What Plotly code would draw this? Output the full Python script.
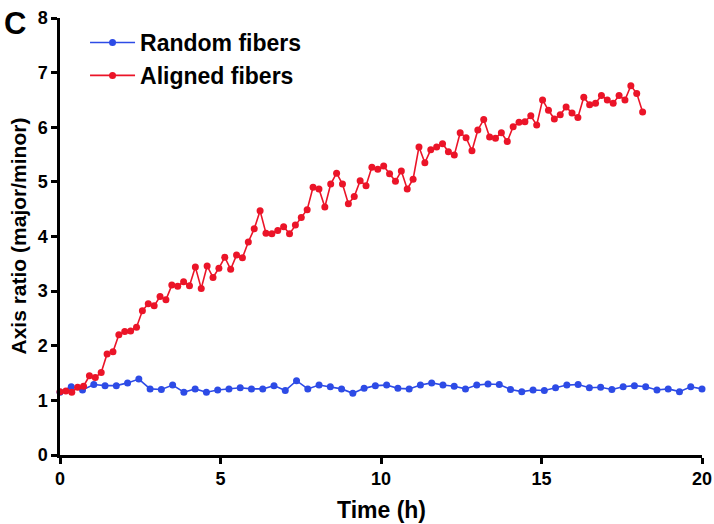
import plotly.graph_objects as go

# Time step: random fibers sampled every 20/57 h, aligned every 11 min
random_step = 20 / 57
aligned_step = 11 / 60

random_vals = [
    1.15, 1.25, 1.19, 1.29, 1.27, 1.27, 1.32, 1.39, 1.21, 1.20,
    1.28, 1.15, 1.21, 1.15, 1.19, 1.21, 1.23, 1.21, 1.21, 1.27,
    1.18, 1.36, 1.21, 1.28, 1.25, 1.21, 1.13, 1.22, 1.27, 1.28,
    1.22, 1.21, 1.28, 1.32, 1.28, 1.26, 1.21, 1.28, 1.30, 1.29,
    1.20, 1.16, 1.19, 1.18, 1.23, 1.28, 1.29, 1.23, 1.24, 1.20,
    1.25, 1.27, 1.25, 1.19, 1.21, 1.16, 1.25, 1.21,
]

aligned_vals = [
    1.16, 1.17, 1.15, 1.24, 1.26, 1.45, 1.42, 1.51, 1.85, 1.89,
    2.20, 2.26, 2.27, 2.34, 2.64, 2.77, 2.73, 2.90, 2.84, 3.11,
    3.09, 3.17, 3.10, 3.44, 3.05, 3.46, 3.25, 3.42, 3.62, 3.40,
    3.66, 3.61, 3.90, 4.14, 4.47, 4.06, 4.05, 4.11, 4.18, 4.05,
    4.21, 4.35, 4.49, 4.90, 4.87, 4.54, 4.96, 5.16, 4.96, 4.60,
    4.73, 5.02, 4.93, 5.27, 5.23, 5.29, 5.15, 5.01, 5.20, 4.87,
    5.05, 5.64, 5.35, 5.59, 5.64, 5.70, 5.55, 5.49, 5.90, 5.81,
    5.57, 5.95, 6.14, 5.82, 5.80, 5.90, 5.74, 6.01, 6.09, 6.10,
    6.21, 6.04, 6.50, 6.31, 6.15, 6.23, 6.37, 6.26, 6.18, 6.55,
    6.41, 6.44, 6.58, 6.50, 6.44, 6.58, 6.50, 6.76, 6.62, 6.28,
]

random_t = [i * random_step for i in range(len(random_vals))]
aligned_t = [i * aligned_step for i in range(len(aligned_vals))]

x_ticks = [0, 5, 10, 15, 20]
y_ticks = [0, 1, 2, 3, 4, 5, 6, 7, 8]

BLUE = "rgb(45,75,230)"
RED = "rgb(235,20,40)"
FONT = "Liberation Sans, Arial, sans-serif"

fig = go.Figure()
fig.add_trace(go.Scatter(
    x=random_t, y=random_vals, mode="lines+markers", name="Random fibers",
    line=dict(color=BLUE, width=1.6), marker=dict(color=BLUE, size=7),
    cliponaxis=False,
))
fig.add_trace(go.Scatter(
    x=aligned_t, y=aligned_vals, mode="lines+markers", name="Aligned fibers",
    line=dict(color=RED, width=1.6), marker=dict(color=RED, size=7),
    cliponaxis=False,
))

axis_common = dict(
    showgrid=False, zeroline=False, showline=True, linecolor="black",
    linewidth=2.5, ticks="outside", ticklen=6, tickwidth=2.5, tickcolor="black",
    tickfont=dict(family=FONT, size=18, color="black", weight="bold"),
    automargin=False,
)

fig.update_layout(
    width=714, height=524,
    margin=dict(l=60, r=12, t=18, b=69),
    plot_bgcolor="white", paper_bgcolor="white",
    xaxis=dict(range=[0, 20], tickvals=x_ticks, **axis_common),
    yaxis=dict(range=[0, 8], tickvals=y_ticks, **axis_common),
    legend=dict(x=0.039, y=0.993, xanchor="left", yanchor="top",
                bgcolor="rgba(0,0,0,0)",
                font=dict(family=FONT, size=23, color="black", weight="bold"),
                itemwidth=45),
    showlegend=True,
    annotations=[
        dict(text="C", x=0, y=1, xref="paper", yref="paper",
             xshift=-58, yshift=14, xanchor="left", yanchor="top",
             showarrow=False,
             font=dict(family=FONT, size=31, color="black", weight="bold")),
        dict(text="Time (h)", x=0.5, y=0, xref="paper", yref="paper",
             yshift=-55, xanchor="center", yanchor="middle", showarrow=False,
             font=dict(family=FONT, size=23, color="black", weight="bold")),
        dict(text="Axis ratio (major/minor)", x=0, y=0.5, xref="paper", yref="paper",
             xshift=-42, xanchor="center", yanchor="middle", textangle=-90,
             showarrow=False,
             font=dict(family=FONT, size=21, color="black", weight="bold")),
    ],
)

# Remove the default page margin so the 714x524 figure fills the window exactly.
fig.write_html(
    "out.html",
    config={"displayModeBar": False},
    post_script="document.body.style.margin='0';document.body.style.overflow='hidden';",
)
